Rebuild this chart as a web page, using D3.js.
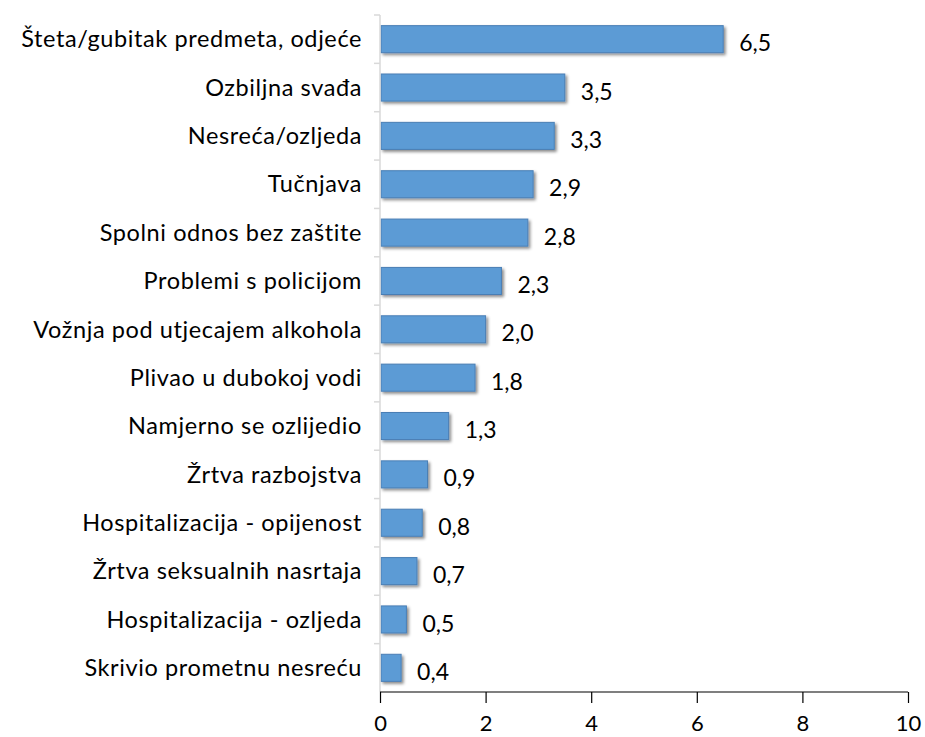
<!DOCTYPE html>
<html>
<head>
<meta charset="utf-8">
<script src="https://cdn.jsdelivr.net/npm/d3@7"></script>
<style>
  body { margin: 0; background: #fff; }
  svg { font-family: Lato, "Open Sans", sans-serif; }
</style>
</head>
<body>
<svg></svg>
<script>
const width = 925;
const height = 737;
const margin = { top: 15, right: 17, bottom: 45, left: 380 };

// Data
const categories = [
    "Šteta/gubitak predmeta, odjeće",
    "Ozbiljna svađa",
    "Nesreća/ozljeda",
    "Tučnjava",
    "Spolni odnos bez zaštite",
    "Problemi s policijom",
    "Vožnja pod utjecajem alkohola",
    "Plivao u dubokoj vodi",
    "Namjerno se ozlijedio",
    "Žrtva razbojstva",
    "Hospitalizacija - opijenost",
    "Žrtva seksualnih nasrtaja",
    "Hospitalizacija - ozljeda",
    "Skrivio prometnu nesreću"
];
const values = [6.5, 3.5, 3.3, 2.9, 2.8, 2.3, 2.0, 1.8, 1.3, 0.9, 0.8, 0.7, 0.5, 0.4];
const xTicks = [0, 2, 4, 6, 8, 10];

const svg = d3.select("svg")
    .attr("width", width)
    .attr("height", height);

// drop shadow for the bars
const defs = svg.append("defs");
const filter = defs.append("filter")
    .attr("id", "shadow")
    .attr("x", "-20%").attr("y", "-30%")
    .attr("width", "150%").attr("height", "180%");
filter.append("feDropShadow")
    .attr("dx", 2).attr("dy", 2)
    .attr("stdDeviation", 1.8)
    .attr("flood-color", "#000")
    .attr("flood-opacity", 0.45);

const innerW = width - margin.left - margin.right;
const innerH = height - margin.top - margin.bottom;

const g = svg.append("g")
    .attr("transform", `translate(${margin.left},${margin.top})`);

const x = d3.scaleLinear().domain([0, 10]).range([0, innerW]);
const y = d3.scaleBand().domain(categories).range([0, innerH]).paddingInner(0.44).paddingOuter(0.22);

// bars
g.selectAll(".bar")
    .data(values)
    .enter()
    .append("rect")
    .attr("class", "bar")
    .attr("x", 1)
    .attr("y", (d, i) => y(categories[i]))
    .attr("width", d => x(d) - 1)
    .attr("height", y.bandwidth())
    .style("fill", "#5b9bd5")
    .style("stroke", "#4a7fb5")
    .style("stroke-width", 1)
    .attr("filter", "url(#shadow)");

// value labels
g.selectAll(".val")
    .data(values)
    .enter()
    .append("text")
    .attr("class", "val")
    .attr("x", d => x(d) + 16)
    .attr("y", (d, i) => y(categories[i]) + y.bandwidth() / 2 + 4)
    .attr("dy", "0.35em")
    .style("font-size", "23px")
    .style("fill", "#000")
    .text(d => d3.format(".1f")(d).replace(".", ","));

// y axis (light grey with ticks between categories)
const step = innerH / categories.length;
g.append("line")
    .attr("x1", 0).attr("x2", 0)
    .attr("y1", 0).attr("y2", innerH)
    .style("stroke", "#d9d9d9")
    .style("stroke-width", 1.5);
g.selectAll(".ytick")
    .data(d3.range(categories.length))
    .enter()
    .append("line")
    .attr("x1", -6).attr("x2", 0)
    .attr("y1", i => i * step).attr("y2", i => i * step)
    .style("stroke", "#d9d9d9")
    .style("stroke-width", 1.5);

// category labels
g.selectAll(".cat")
    .data(categories)
    .enter()
    .append("text")
    .attr("class", "cat")
    .attr("x", -18)
    .attr("y", (d, i) => i * step + step / 2)
    .attr("dy", "0.35em")
    .style("text-anchor", "end")
    .style("font-size", "23.5px")
    .style("letter-spacing", "0.6px")
    .style("fill", "#000")
    .text(d => d);

// x axis
const xAxis = g.append("g")
    .attr("transform", `translate(0,${innerH})`)
    .call(d3.axisBottom(x).tickValues(xTicks).tickSize(11).tickPadding(12).tickFormat(d3.format("d")));
xAxis.select(".domain").style("stroke", "#000").style("stroke-width", 1.2);
xAxis.selectAll(".tick line").style("stroke", "#000").style("stroke-width", 1.2);
xAxis.selectAll("text")
    .style("font-size", "22px")
    .style("font-family", "Lato, 'Open Sans', sans-serif")
    .style("fill", "#000");
xAxis.select(".domain").attr("d", `M0,0H${innerW}`);
</script>
</body>
</html>
